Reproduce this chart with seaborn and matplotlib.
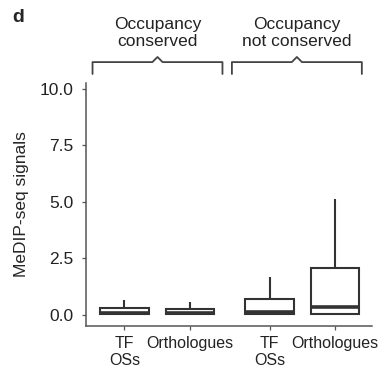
import numpy as np
import pandas as pd
import matplotlib
matplotlib.use("Agg")
import matplotlib.pyplot as plt
import seaborn as sns

# ---- data (five-number summaries) ----
conditions = ["Occupancy\nconserved", "Occupancy\nnot conserved"]
site_types = ["TF\nOSs", "Orthologues"]
# order: (conserved, TF OSs), (conserved, Orthologues), (not conserved, TF OSs), (not conserved, Orthologues)
box_condition = [conditions[0], conditions[0], conditions[1], conditions[1]]
box_type = [site_types[0], site_types[1], site_types[0], site_types[1]]
whisker_low = [0.0, 0.0, 0.0, 0.0]
q1 = [0.02, 0.03, 0.03, 0.03]
median = [0.07, 0.08, 0.13, 0.32]
q3 = [0.30, 0.25, 0.70, 2.06]
whisker_high = [0.66, 0.55, 1.67, 5.10]
y_ticks = [0.0, 2.5, 5.0, 7.5, 10.0]
y_label = "MeDIP-seq signals"
panel_label = "d"

rows = []
for c, t, lo, a, m, b, hi in zip(box_condition, box_type, whisker_low, q1, median, q3, whisker_high):
    for v in (lo, a, m, b, hi):
        rows.append({"condition": c, "type": t, "value": v})
df = pd.DataFrame(rows)

sns.set_style("ticks")
plt.rcParams["font.family"] = ["Liberation Sans", "DejaVu Sans"]

fig = plt.figure(figsize=(3.83, 3.68), dpi=100)
ax = fig.add_axes([86 / 383, 1 - 326 / 368, (372 - 86) / 383, (326 - 83) / 368])

edge = "#333333"
group_width = 0.9
sns.boxplot(data=df, x="condition", y="value", hue="type", order=conditions,
            hue_order=site_types, palette={t: "white" for t in site_types},
            width=group_width, gap=0.26, whis=(0, 100), showcaps=False,
            linecolor=edge, linewidth=1.5, legend=False, ax=ax,
            medianprops=dict(linewidth=2.6, color=edge))

off = group_width / 4
ax.set_xticks([-off, off, 1 - off, 1 + off])
ax.set_xticklabels([site_types[0], site_types[1], site_types[0], site_types[1]], fontsize=11.5)
for lbl in ax.get_xticklabels():
    lbl.set_linespacing(1.2)
ax.set_xlim(-0.49, 1.48)
ax.set_ylim(-0.5, 10.25)
ax.set_yticks(y_ticks)
ax.set_yticklabels([f"{v:.1f}" for v in y_ticks], fontsize=12.5)
ax.set_xlabel("")
ax.set_ylabel(y_label, fontsize=12.5, labelpad=8)
for s in ("top", "right"):
    ax.spines[s].set_visible(False)
for s in ("left", "bottom"):
    ax.spines[s].set_color("#555555")
    ax.spines[s].set_linewidth(1.1)
ax.tick_params(axis="both", length=3, width=0.9, color="#555555", labelcolor="#222222")
ax.tick_params(axis="x", pad=4)
ax.tick_params(axis="y", pad=6)

# brackets
tr = ax.get_xaxis_transform()
y_end, y_h, y_car, d = 1.037, 1.086, 1.107, 0.035
for (x0, x1), label in zip([(-0.445, 0.45), (0.515, 1.41)], conditions):
    xc = (x0 + x1) / 2
    ax.plot([x0, x0, xc - d, xc, xc + d, x1, x1],
            [y_end, y_h, y_h, y_car, y_h, y_h, y_end],
            transform=tr, clip_on=False, color="#444444", lw=1.3)
    ax.text(xc, 1.14, label, transform=tr, ha="center", va="bottom",
            fontsize=12.5, linespacing=1.15, color="#222222")

fig.text(12 / 383, 1 - 22 / 368, panel_label, fontsize=14, fontweight="bold", va="baseline")

fig.savefig("out.png", dpi=100)
